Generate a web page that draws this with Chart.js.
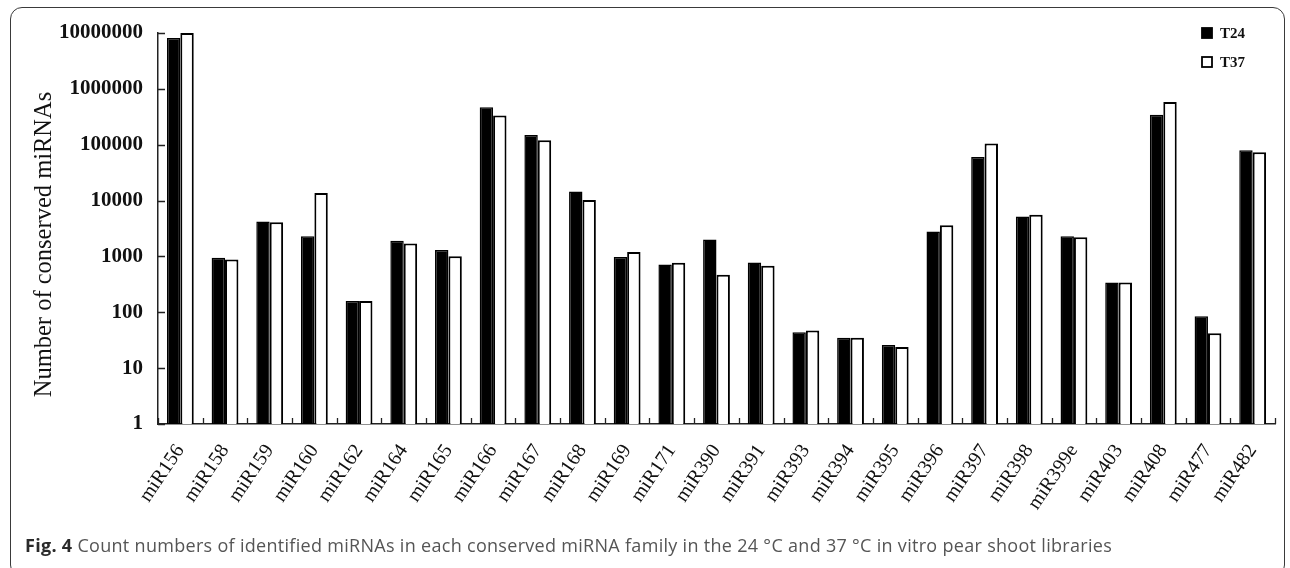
<!DOCTYPE html>
<html>
<head>
<meta charset="utf-8">
<script src="https://cdn.jsdelivr.net/npm/chart.js@4/dist/chart.umd.min.js"></script>
<style>
  html, body { margin: 0; padding: 0; background: #fff; }
  #wrap { position: relative; width: 1290px; height: 568px; overflow: hidden; }
  #frame {
    position: absolute; left: 10px; top: 7px; width: 1275px; height: 570px;
    border: 1.5px solid #3a3a3a; border-radius: 12px; box-sizing: border-box;
  }
  canvas { position: absolute; left: 0; top: 0; }
  #caption {
    position: absolute; left: 25px; top: 533px;
    font-family: "Open Sans", sans-serif; font-size: 18px; letter-spacing: 0.3px; color: #555;
    white-space: nowrap;
  }
  #caption b { color: #2a2a2a; }
</style>
</head>
<body>
<div id="wrap">
  <div id="frame"></div>
  <canvas id="chart" width="1290" height="568"></canvas>
  <div id="caption"><b>Fig. 4</b> Count numbers of identified miRNAs in each conserved miRNA family in the 24 °C and 37 °C in vitro pear shoot libraries</div>
</div>
<script>
// miRNA families
const families = ['miR156','miR158','miR159','miR160','miR162','miR164','miR165','miR166','miR167','miR168',
  'miR169','miR171','miR390','miR391','miR393','miR394','miR395','miR396','miR397','miR398',
  'miR399e','miR403','miR408','miR477','miR482'];

// read counts per family
const t24 = [8100000, 950, 4200, 2300, 160, 1900, 1300, 470000, 150000, 14500,
  980, 720, 2000, 780, 44, 35, 26, 2800, 60000, 5200,
  2300, 340, 345000, 85, 80000];
const t37 = [10000000, 880, 4100, 13700, 160, 1700, 1010, 335000, 120000, 10200,
  1200, 770, 470, 680, 47, 35, 24, 3600, 105000, 5600,
  2200, 340, 580000, 42, 73000];

// log axis decades
const yTicks = [1, 10, 100, 1000, 10000, 100000, 1000000, 10000000];
const yTitle = 'Number of conserved miRNAs';

const serif = '"Liberation Serif", "DejaVu Serif", serif';

// short tick marks pointing into the plot area
const innerTicks = {
  id: 'innerTicks',
  afterDatasetsDraw(chart) {
    const { ctx } = chart;
    const x = chart.scales.x, y = chart.scales.y;
    ctx.save();
    ctx.strokeStyle = '#222';
    ctx.lineWidth = 1.3;
    ctx.beginPath();
    y.ticks.forEach(t => {
      const py = Math.round(y.getPixelForValue(t.value)) + 0.5;
      ctx.moveTo(y.right, py);
      ctx.lineTo(y.right + 7, py);
    });
    const n = chart.data.labels.length;
    const w = (x.right - x.left) / n;
    for (let i = 0; i <= n; i++) {
      const px = Math.round(x.left + i * w) + 0.5;
      ctx.moveTo(px, x.top);
      ctx.lineTo(px, x.top - 6);
    }
    ctx.stroke();
    ctx.restore();
  }
};

// rotated y-axis title
const yAxisTitle = {
  id: 'yAxisTitle',
  afterDraw(chart) {
    const { ctx, chartArea } = chart;
    ctx.save();
    ctx.translate(chartArea.left - 113, (chartArea.top + chartArea.bottom) / 2 + 16);
    ctx.rotate(-Math.PI / 2);
    ctx.font = '24.5px ' + serif;
    ctx.fillStyle = '#111';
    ctx.textAlign = 'center';
    ctx.textBaseline = 'middle';
    ctx.fillText(yTitle, 0, 0);
    ctx.restore();
  }
};

// stacked legend in the upper right corner
const cornerLegend = {
  id: 'cornerLegend',
  afterDraw(chart) {
    const { ctx } = chart;
    const x0 = 1202, y0 = 28, gap = 29, box = 10;
    ctx.save();
    ctx.font = 'bold 15px ' + serif;
    ctx.textBaseline = 'middle';
    chart.data.datasets.forEach((ds, i) => {
      const yy = y0 + i * gap;
      ctx.fillStyle = ds.backgroundColor;
      ctx.fillRect(x0, yy, box, box);
      ctx.strokeStyle = '#000';
      ctx.lineWidth = 1.8;
      ctx.strokeRect(x0, yy, box, box);
      ctx.fillStyle = '#111';
      ctx.fillText(ds.label, x0 + 18, yy + box / 2 + 1);
    });
    ctx.restore();
  }
};

new Chart(document.getElementById('chart'), {
  type: 'bar',
  data: {
    labels: families,
    datasets: [
      { label: 'T24', data: t24, backgroundColor: '#000', borderColor: '#000', borderWidth: 1.5 },
      { label: 'T37', data: t37, backgroundColor: '#fff', borderColor: '#000', borderWidth: 2 }
    ]
  },
  options: {
    responsive: false,
    animation: false,
    devicePixelRatio: 1,
    layout: { padding: { top: 33, right: 15, left: 0, bottom: 0 } },
    datasets: { bar: { categoryPercentage: 0.6, barPercentage: 1.0 } },
    plugins: { legend: { display: false }, tooltip: { enabled: false } },
    scales: {
      x: {
        grid: { display: false, drawTicks: false },
        border: { display: true, color: '#222', width: 1.5 },
        ticks: {
          color: '#111', font: { family: serif, size: 20 },
          minRotation: 56, maxRotation: 56, padding: 16, autoSkip: false
        },
        afterFit(s) { s.height = 144; }
      },
      y: {
        type: 'logarithmic',
        min: 1, max: 10000000,
        grid: { display: false, drawTicks: false },
        border: { display: true, color: '#222', width: 1.5 },
        afterBuildTicks(s) { s.ticks = yTicks.map(v => ({ value: v })); },
        ticks: {
          color: '#111', font: { family: serif, size: 21, weight: 'bold' },
          padding: 15,
          callback: v => String(v)
        },
        afterFit(s) { s.width = 158; }
      }
    }
  },
  plugins: [innerTicks, yAxisTitle, cornerLegend]
});
</script>
</body>
</html>
